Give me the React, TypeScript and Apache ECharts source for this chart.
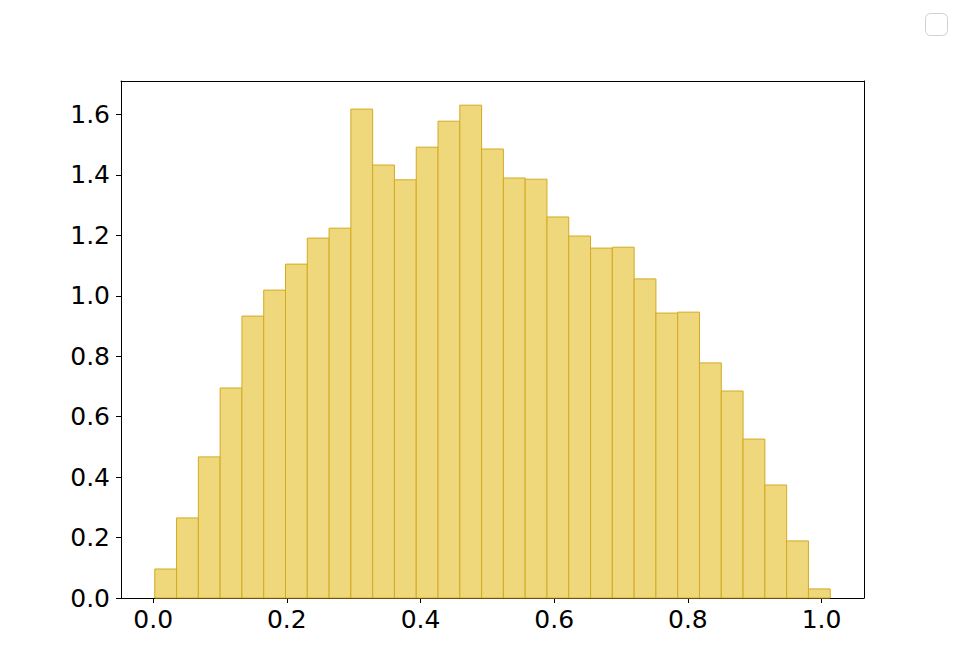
import React, { useEffect, useRef } from "react";
import * as echarts from "echarts";

// Histogram bin settings
const binStart = 0.0024;
const binWidth = 0.0326;
const densities = [
  0.096, 0.265, 0.467, 0.695, 0.933, 1.019, 1.105, 1.191, 1.224, 1.618,
  1.433, 1.384, 1.492, 1.578, 1.631, 1.486, 1.39, 1.386, 1.261, 1.198,
  1.158, 1.161, 1.056, 0.943, 0.946, 0.778, 0.685, 0.526, 0.374, 0.189,
  0.03,
];
const xTicks = [0, 0.2, 0.4, 0.6, 0.8, 1.0];
const yTicks = [0, 0.2, 0.4, 0.6, 0.8, 1.0, 1.2, 1.4, 1.6];

export default function App() {
  const ref = useRef<HTMLDivElement>(null);
  useEffect(() => {
    document.body.style.margin = "0";
    const chart = echarts.init(ref.current!, null, { renderer: "svg" });
    const data = densities.map((h, i) => [
      binStart + i * binWidth,
      binStart + (i + 1) * binWidth,
      h,
    ]);
    const lo = binStart;
    const hi = binStart + densities.length * binWidth;
    const m = (hi - lo) * 0.05;
    const font = "DejaVu Sans";
    const spine = { show: true, onZero: false, lineStyle: { color: "#000", width: 1 } };
    const plainAxis = {
      splitLine: { show: false },
      axisTick: { show: false },
      axisLabel: { show: false },
      axisLine: spine,
    };
    chart.setOption({
      animation: false,
      backgroundColor: "#ffffff",
      grid: {
        left: 121,
        top: 81,
        right: 96,
        bottom: 74,
      },
      xAxis: [
        {
          type: "value",
          min: lo - m,
          max: hi + m,
          splitLine: { show: false },
          axisLine: spine,
          axisTick: {
            show: true,
            length: 5,
            lineStyle: { color: "#000", width: 1 },
            customValues: xTicks,
          },
          axisLabel: {
            customValues: xTicks,
            margin: 9,
            color: "#000",
            fontSize: 25,
            fontFamily: font,
            formatter: (v: number) => v.toFixed(1),
          },
        },
        { type: "value", position: "top", min: lo - m, max: hi + m, ...plainAxis },
      ],
      yAxis: [
        {
          type: "value",
          min: 0,
          max: 1.711,
          splitLine: { show: false },
          axisLine: spine,
          axisTick: {
            show: true,
            length: 5,
            lineStyle: { color: "#000", width: 1 },
            customValues: yTicks,
          },
          axisLabel: {
            customValues: yTicks,
            margin: 11,
            color: "#000",
            fontSize: 25,
            fontFamily: font,
            formatter: (v: number) => v.toFixed(1),
          },
        },
        { type: "value", position: "right", min: 0, max: 1.711, ...plainAxis },
      ],
      series: [
        {
          type: "custom",
          data,
          encode: { x: [0, 1], y: 2 },
          renderItem: (params: any, api: any) => {
            const p0 = api.coord([api.value(0), api.value(2)]);
            const p1 = api.coord([api.value(1), 0]);
            return {
              type: "rect",
              shape: {
                x: p0[0],
                y: p0[1],
                width: p1[0] - p0[0],
                height: p1[1] - p0[1],
              },
              style: {
                fill: "#EFD77C",
                stroke: "#D4AA22",
                lineWidth: 1,
              },
            };
          },
        },
      ],
      graphic: [
        {
          type: "rect",
          left: 925,
          top: 13,
          shape: { width: 22, height: 22, r: 5 },
          style: { fill: "#fff", stroke: "#d0d0d0", lineWidth: 1 },
        },
      ],
    });
    return () => chart.dispose();
  }, []);
  return (
    <div
      ref={ref}
      style={{ position: "absolute", left: 0, top: 0, width: 960, height: 672 }}
    />
  );
}
